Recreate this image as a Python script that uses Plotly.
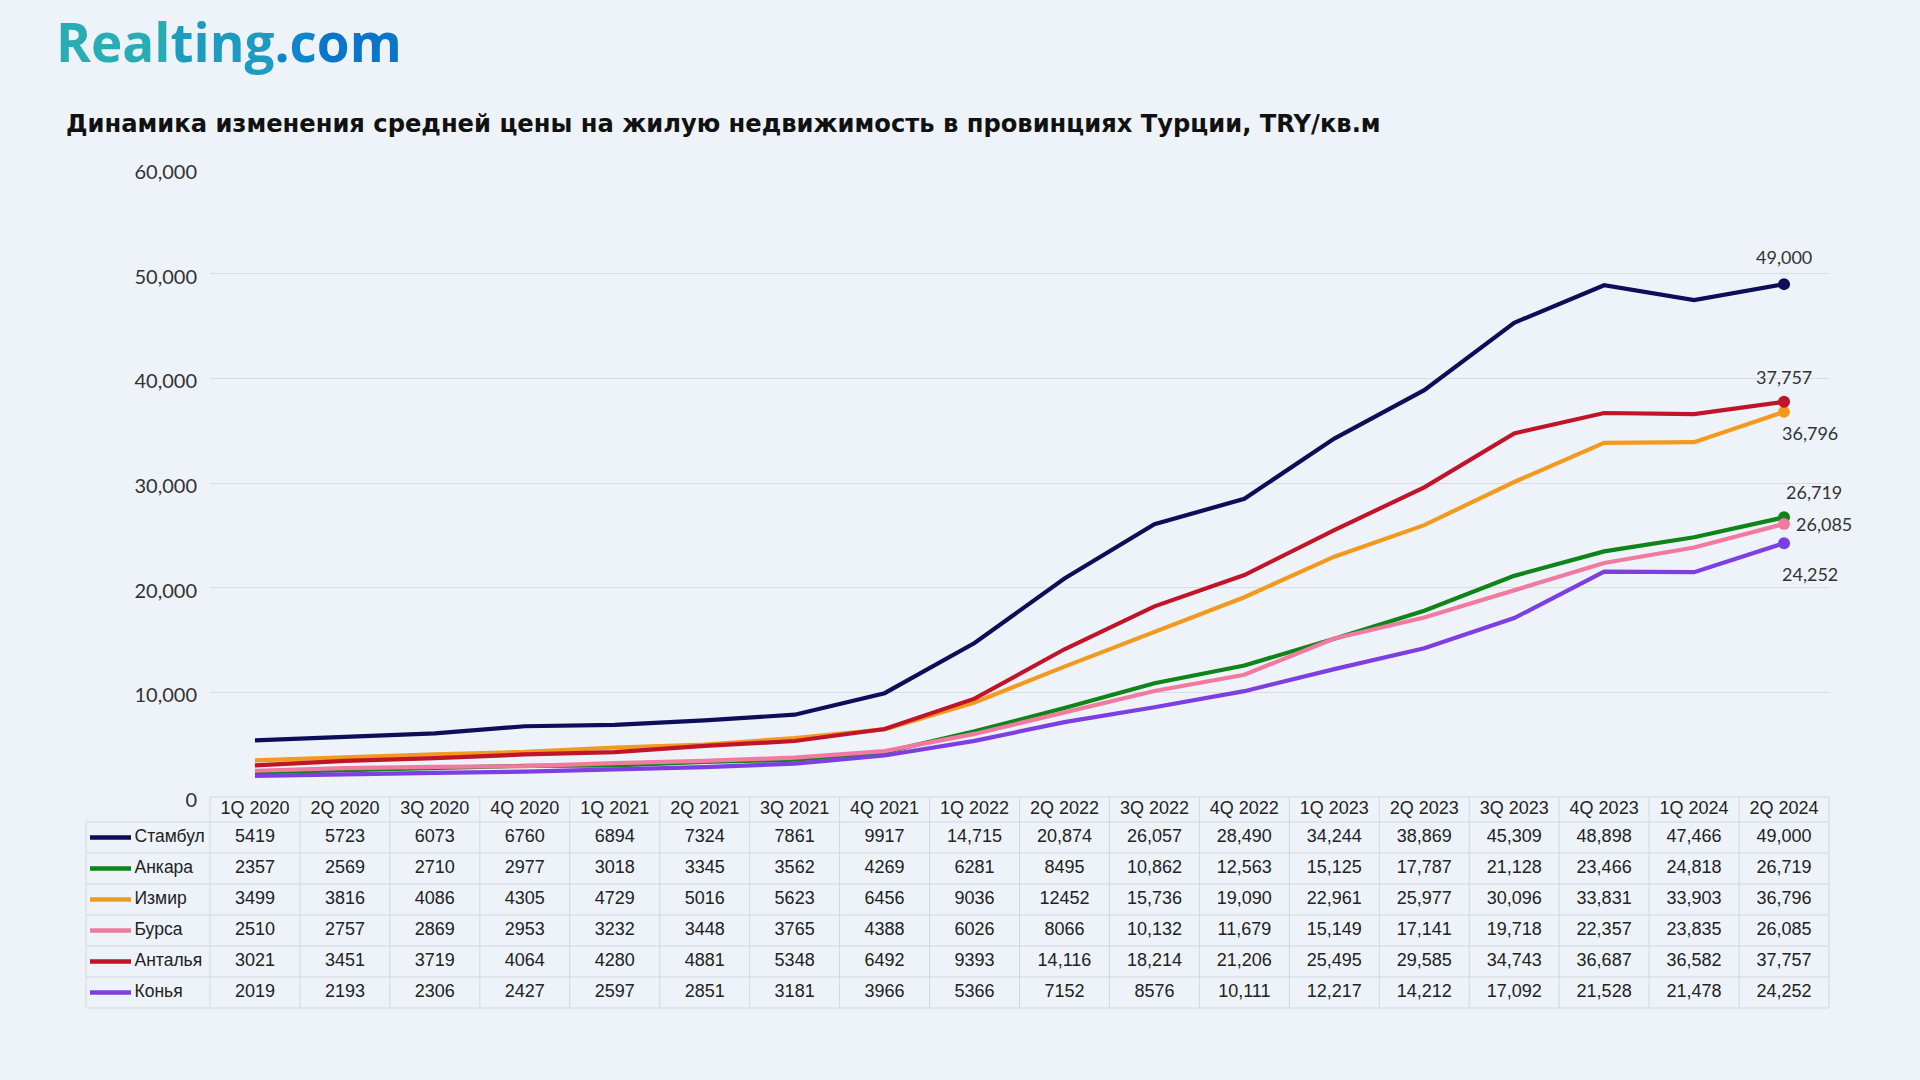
import plotly.graph_objects as go

# ---------------- data ----------------
quarters = ["1Q 2020", "2Q 2020", "3Q 2020", "4Q 2020", "1Q 2021", "2Q 2021",
            "3Q 2021", "4Q 2021", "1Q 2022", "2Q 2022", "3Q 2022", "4Q 2022",
            "1Q 2023", "2Q 2023", "3Q 2023", "4Q 2023", "1Q 2024", "2Q 2024"]
cities = ["Стамбул", "Анкара", "Измир", "Бурса", "Анталья", "Конья"]
istanbul = [5419, 5723, 6073, 6760, 6894, 7324, 7861, 9917, 14715, 20874, 26057, 28490,
            34244, 38869, 45309, 48898, 47466, 49000]
ankara = [2357, 2569, 2710, 2977, 3018, 3345, 3562, 4269, 6281, 8495, 10862, 12563,
          15125, 17787, 21128, 23466, 24818, 26719]
izmir = [3499, 3816, 4086, 4305, 4729, 5016, 5623, 6456, 9036, 12452, 15736, 19090,
         22961, 25977, 30096, 33831, 33903, 36796]
bursa = [2510, 2757, 2869, 2953, 3232, 3448, 3765, 4388, 6026, 8066, 10132, 11679,
         15149, 17141, 19718, 22357, 23835, 26085]
antalya = [3021, 3451, 3719, 4064, 4280, 4881, 5348, 6492, 9393, 14116, 18214, 21206,
           25495, 29585, 34743, 36687, 36582, 37757]
konya = [2019, 2193, 2306, 2427, 2597, 2851, 3181, 3966, 5366, 7152, 8576, 10111,
         12217, 14212, 17092, 21528, 21478, 24252]
series = [istanbul, ankara, izmir, bursa, antalya, konya]
y_ticks = [0, 10000, 20000, 30000, 40000, 50000, 60000]
title_text = "Динамика изменения средней цены на жилую недвижимость в провинциях Турции, TRY/кв.м"

# ---------------- styles ----------------
colors = ["#0e0e58", "#0f8418", "#f29a1f", "#f27aa0", "#c01528", "#7d3fe2"]
# end label offsets (px): (xshift, yshift), in city order
label_offsets = [(0, 27), (30, 25), (26, -21), (40, 0), (0, 25), (26, -31)]
# cells shown without thousands separator in the source table
no_comma = {(2, 9)}

BG = "#eef3fa"
GRID = "#d9dce1"
BORDER = "#d3d7dd"
W, H = 1920, 1080


def fx(px):
    return px / W


def fy(px):
    return 1 - px / H


# geometry (pixels)
plot_l, plot_r, plot_t, plot_b = 210, 1829, 169, 797
ncat = len(quarters)
colw = (plot_r - plot_l) / ncat
tab_l = 86
header_h, row_h = 25, 31
tab_h = header_h + row_h * len(cities)


def fmt(v, i, j):
    if v >= 10000 and (i, j) not in no_comma:
        return f"{v:,}"
    return str(v)


fig = go.Figure()

# ---------------- line chart ----------------
for i, (name, vals) in enumerate(zip(cities, series)):
    fig.add_trace(go.Scatter(
        x=quarters, y=vals, mode="lines", name=name,
        line=dict(color=colors[i], width=4.2), showlegend=False,
        xaxis="x", yaxis="y", hoverinfo="skip"))
    fig.add_trace(go.Scatter(
        x=[quarters[-1]], y=[vals[-1]], mode="markers",
        marker=dict(color=colors[i], size=12), showlegend=False,
        xaxis="x", yaxis="y", hoverinfo="skip", cliponaxis=False))
    dx, dy = label_offsets[i]
    fig.add_annotation(x=quarters[-1], y=vals[-1], xref="x", yref="y",
                       text=f"{vals[-1]:,}", showarrow=False, xshift=dx, yshift=dy,
                       font=dict(family="Lato", size=18, color="#333333"))

# ---------------- table (on its own axes) ----------------
pad = 3
x2_left_px = tab_l - pad
x2_right_px = plot_r + pad
x2_range = [-0.5 - (plot_l - x2_left_px) / colw, ncat - 0.5 + (x2_right_px - plot_r) / colw]
lab_x0 = -0.5 - (plot_l - tab_l) / colw

# header
fig.add_trace(go.Scatter(
    x=list(range(ncat)), y=[header_h / 2] * ncat, text=quarters, mode="text",
    textposition="middle center", xaxis="x2", yaxis="y2", showlegend=False,
    textfont=dict(family="Liberation Sans", size=18, color="#222222"), hoverinfo="skip"))

for i, (name, vals) in enumerate(zip(cities, series)):
    yc = header_h + row_h * i + row_h / 2
    fig.add_trace(go.Scatter(
        x=list(range(ncat)), y=[yc] * ncat,
        text=[fmt(v, i, j) for j, v in enumerate(vals)], mode="text",
        textposition="middle center", xaxis="x2", yaxis="y2", showlegend=False,
        textfont=dict(family="Liberation Sans", size=18, color="#222222"), hoverinfo="skip"))
    # legend swatch
    fig.add_trace(go.Scatter(
        x=[lab_x0 + 4 / colw, lab_x0 + 45 / colw], y=[yc, yc], mode="lines",
        line=dict(color=colors[i], width=4.5), xaxis="x2", yaxis="y2",
        showlegend=False, hoverinfo="skip"))
    fig.add_trace(go.Scatter(
        x=[lab_x0 + 48.5 / colw], y=[yc], text=[name], mode="text",
        textposition="middle right", xaxis="x2", yaxis="y2", showlegend=False,
        textfont=dict(family="Liberation Sans", size=17.5, color="#222222"), hoverinfo="skip"))

# table borders
line_style = dict(color=BORDER, width=1)
fig.add_shape(type="line", xref="x2", yref="y2", x0=-0.5, x1=ncat - 0.5, y0=0, y1=0, line=line_style)
for k in range(len(cities) + 1):
    yk = header_h + row_h * k
    fig.add_shape(type="line", xref="x2", yref="y2", x0=lab_x0, x1=ncat - 0.5,
                  y0=yk, y1=yk, line=line_style)
fig.add_shape(type="line", xref="x2", yref="y2", x0=lab_x0, x1=lab_x0,
              y0=header_h, y1=tab_h, line=line_style)
for j in range(ncat + 1):
    fig.add_shape(type="line", xref="x2", yref="y2", x0=j - 0.5, x1=j - 0.5,
                  y0=0, y1=tab_h, line=line_style)

# ---------------- texts ----------------
fig.add_annotation(
    xref="paper", yref="paper", x=fx(54), y=fy(42), xanchor="left", yanchor="middle",
    showarrow=False,
    text=('<span style="color:#27adb3">Real</span>'
          '<span style="color:#1d9bc1">ting</span>'
          '<span style="color:#0f86cb">.c</span>'
          '<span style="color:#0b76c9">om</span>'),
    font=dict(family="Open Sans", size=53, weight="bold"))
fig.add_annotation(
    xref="paper", yref="paper", x=fx(64), y=fy(124), xanchor="left", yanchor="middle",
    showarrow=False, text=title_text,
    font=dict(family="DejaVu Sans", size=24.2, weight="bold", color="#111111"))

fig.update_layout(
    width=W, height=H, margin=dict(l=0, r=0, t=0, b=0, pad=0, autoexpand=False),
    paper_bgcolor=BG, plot_bgcolor="rgba(0,0,0,0)",
    xaxis=dict(domain=[fx(plot_l), fx(plot_r)], type="category",
               categoryorder="array", categoryarray=quarters,
               range=[-0.5, ncat - 0.5], showticklabels=False, showgrid=False,
               zeroline=False, showline=False, fixedrange=True, automargin=False),
    yaxis=dict(domain=[fy(plot_b), fy(plot_t)], range=[0, 60000], tickvals=y_ticks,
               tickformat=",", showgrid=True, gridcolor=GRID, gridwidth=1, zeroline=False,
               showline=False, ticks="", ticklabelstandoff=12, ticklabelshift=3,
               automargin=False,
               tickfont=dict(family="Lato", size=20, color="#333333"), fixedrange=True),
    xaxis2=dict(domain=[fx(x2_left_px), fx(x2_right_px)], range=x2_range, visible=False,
                fixedrange=True, automargin=False),
    yaxis2=dict(domain=[fy(plot_b + tab_h + pad), fy(plot_b - pad)],
                range=[tab_h + pad, -pad], visible=False, fixedrange=True, automargin=False),
)

page_fix = (
    "var d=document.documentElement,b=document.body;"
    "d.style.margin='0';d.style.padding='0';d.style.overflow='hidden';d.style.height='1080px';"
    "b.style.margin='0';b.style.padding='0';b.style.overflow='hidden';b.style.height='1080px';"
    "var g=document.querySelector('.plotly-graph-div');"
    "g.style.position='fixed';g.style.top='0px';g.style.left='0px';"
)
fig.write_html("out.html", config={"displayModeBar": False}, post_script=page_fix)
